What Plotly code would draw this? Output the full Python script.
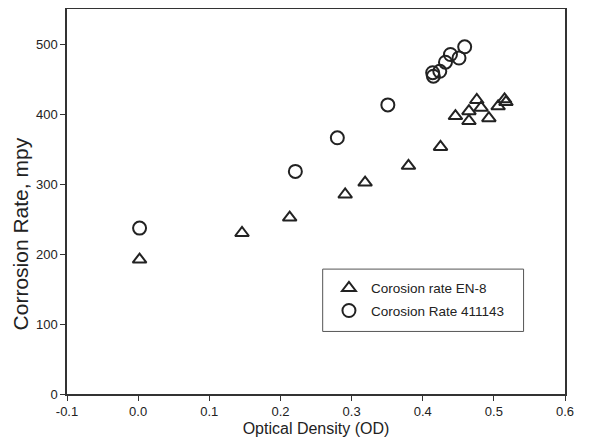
import plotly.graph_objects as go

# EN-8 series (triangles)
en8_x = [0.002, 0.146, 0.213, 0.291, 0.319, 0.380, 0.425, 0.446, 0.465, 0.465,
         0.476, 0.482, 0.493, 0.506, 0.515, 0.517]
en8_y = [192, 230, 252, 285, 302, 326, 353, 397, 404, 390,
         420, 409, 394, 411, 421, 417]

# 411143 series (circles)
s411_x = [0.002, 0.221, 0.280, 0.351, 0.414, 0.415, 0.424, 0.432, 0.439, 0.451, 0.459]
s411_y = [237, 318, 366, 413, 459, 454, 461, 474, 485, 480, 496]

x_ticks = [-0.1, 0.0, 0.1, 0.2, 0.3, 0.4, 0.5, 0.6]
x_tick_labels = ["-0.1", "0.0", "0.1", "0.2", "0.3", "0.4", "0.5", "0.6"]
y_ticks = [0, 100, 200, 300, 400, 500]
y_tick_labels = ["0", "100", "200", "300", "400", "500"]

FONT = "Liberation Sans, Arial, sans-serif"
INK = "#222222"

fig = go.Figure()
fig.add_trace(go.Scatter(
    x=en8_x, y=en8_y, mode="markers", name="Corosion rate EN-8",
    legendgroup="a",
    marker=dict(symbol="triangle-up-open", size=12, color=INK,
                line=dict(color=INK, width=2)),
))
fig.add_trace(go.Scatter(
    x=s411_x, y=s411_y, mode="markers", name="Corosion Rate 411143",
    legendgroup="b",
    marker=dict(symbol="circle-open", size=13, color=INK,
                line=dict(color=INK, width=2)),
))

axis_common = dict(
    showgrid=False, zeroline=False, showline=True, mirror=True,
    linecolor="#333333", linewidth=1.5, automargin=False,
    ticks="outside", ticklen=5, tickwidth=1, tickcolor="#333333",
    tickfont=dict(family=FONT, size=13, color=INK),
)

# page body has an 8px default margin, so the figure is sized to fit inside it
fig.update_layout(
    width=588, height=435,
    margin=dict(l=58.5, r=30.5, t=1, b=48.7),
    paper_bgcolor="white", plot_bgcolor="white",
    font=dict(family=FONT, color=INK),
    xaxis=dict(range=[-0.1, 0.6], tickvals=x_ticks, ticktext=x_tick_labels,
               title=dict(text="Optical Density (OD)", font=dict(size=16, family=FONT, color=INK), standoff=4),
               **axis_common),
    yaxis=dict(range=[0, 550], tickvals=y_ticks, ticktext=y_tick_labels,
               **axis_common),
    showlegend=True,
    legend=dict(x=0.522, y=0.245, xanchor="left", yanchor="middle",
                bgcolor="rgba(0,0,0,0)", borderwidth=0, itemwidth=34,
                font=dict(family=FONT, size=13.5, color=INK),
                traceorder="grouped", tracegroupgap=2),
    shapes=[dict(type="rect", xref="paper", yref="paper",
                 x0=0.5134, x1=0.9168, y0=0.1625, y1=0.3244,
                 line=dict(color="#555555", width=1), fillcolor="rgba(0,0,0,0)")],
    annotations=[dict(text="Corrosion Rate, mpy", xref="paper", yref="paper",
                      x=-0.0932, y=0.416, xanchor="center", yanchor="middle",
                      textangle=-90, showarrow=False,
                      font=dict(family=FONT, size=21, color=INK))],
)

fig.write_html("out.html")
